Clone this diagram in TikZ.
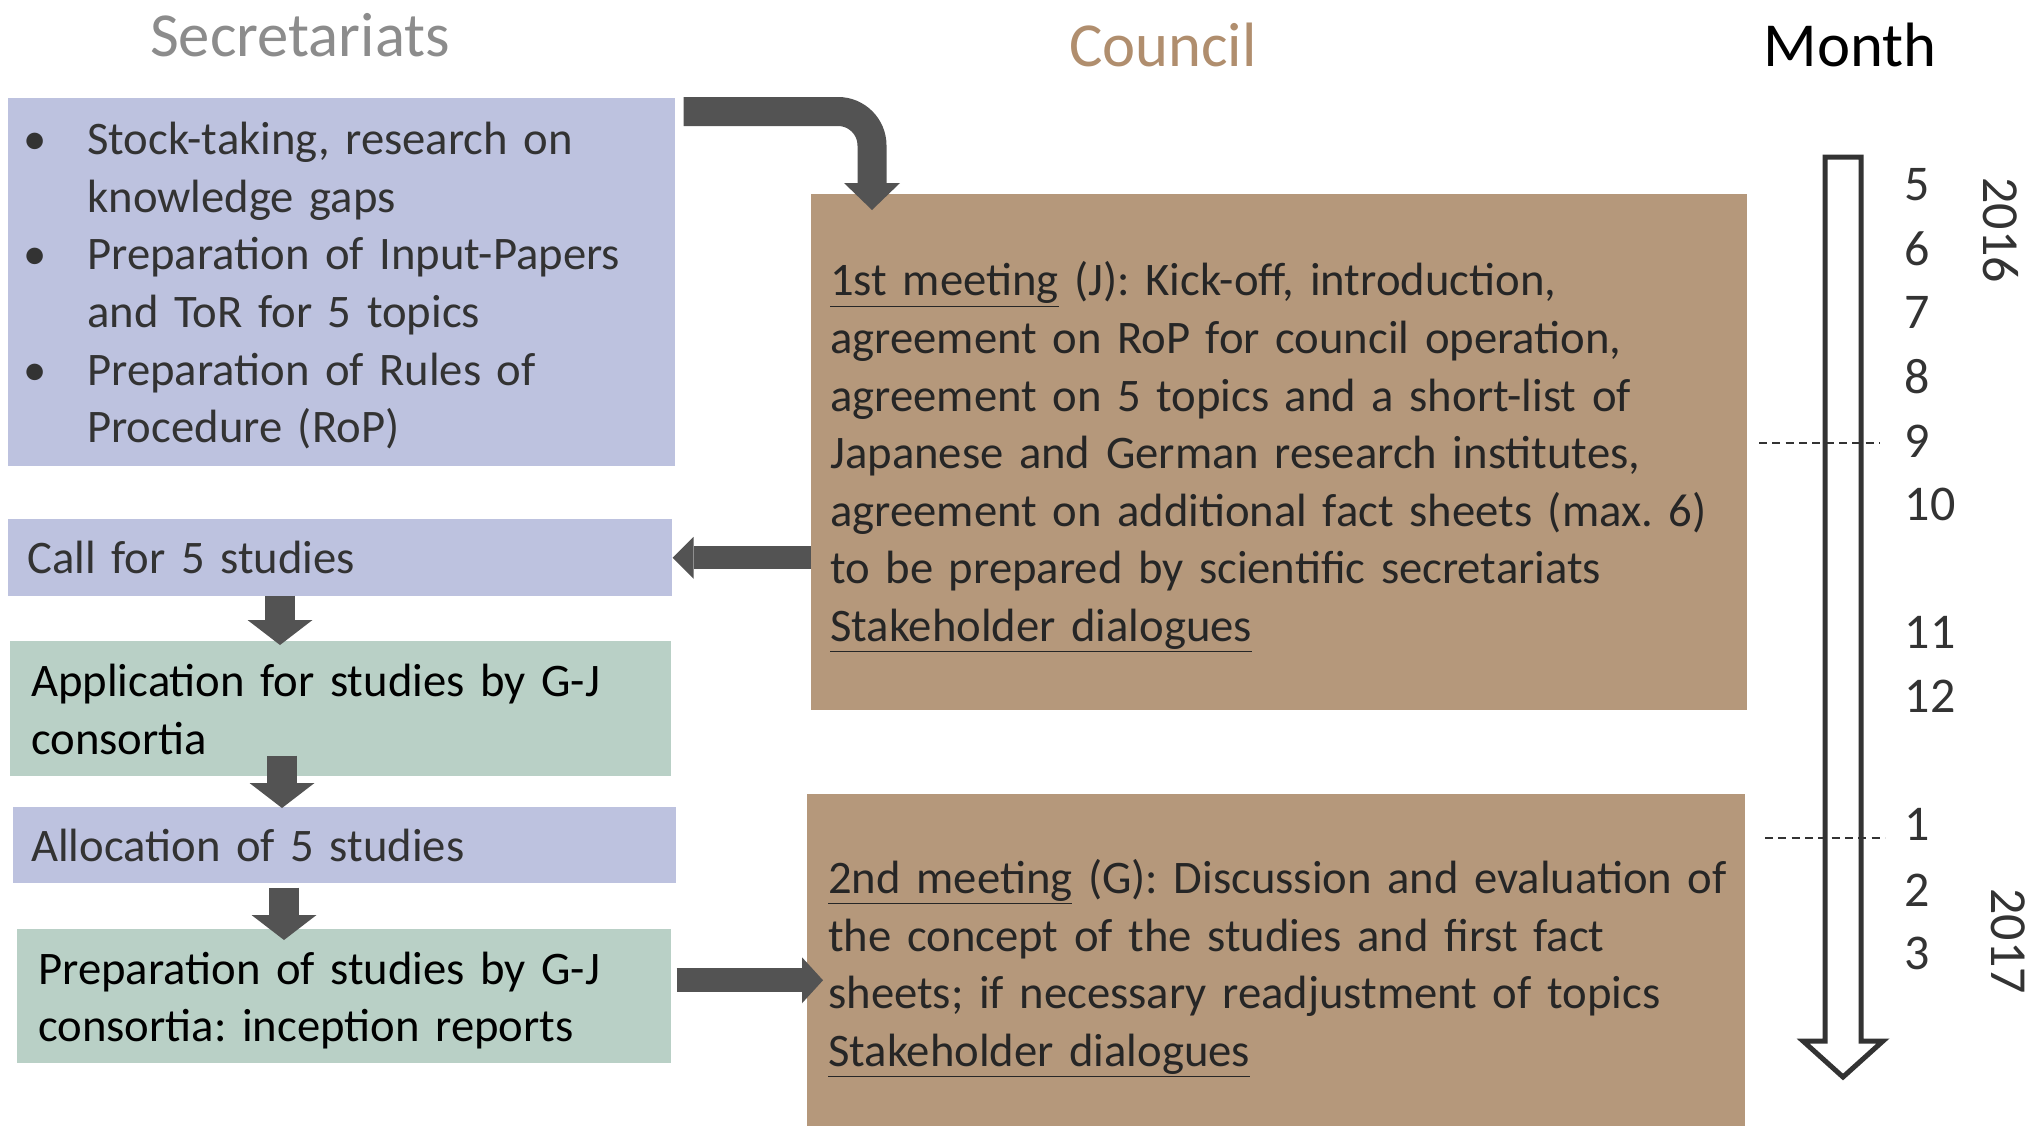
\documentclass[tikz,border=0pt]{standalone}
\usepackage{fontspec}
\setmainfont{Carlito}
\usepackage{tikz}
\usetikzlibrary{arrows.meta}
\usetikzlibrary{calc}

\definecolor{secblue}{RGB}{189,194,223}
\definecolor{studygreen}{RGB}{185,208,198}
\definecolor{councilbrown}{RGB}{181,152,123}
\definecolor{councilhead}{RGB}{176,142,110}
\definecolor{arrowgray}{RGB}{83,83,83}
\definecolor{headgray}{RGB}{140,140,140}
\definecolor{textdark}{RGB}{51,51,51}

\frenchspacing
\newcommand{\bodysize}{\fontsize{35}{43.2}\selectfont}
\newcommand{\bul}{\makebox[48pt][l]{\textbullet}}
\newcommand{\hang}{\hspace*{48pt}}
\newcommand{\textlines}[1]{\begin{tabular}{@{}l@{}}\rule{0pt}{37.74pt}#1\end{tabular}}

\tikzset{
  secbox/.style={rectangle, fill=secblue, text=textdark, anchor=north west, align=left, inner ysep=0pt, font=\bodysize},
  studybox/.style={rectangle, fill=studygreen, text=black, anchor=north west, align=left, inner ysep=0pt, font=\bodysize},
  meetbox/.style={rectangle, fill=councilbrown, text=black!85, anchor=north west, align=left, inner ysep=0pt, font=\bodysize},
  colhead/.style={font=\fontsize{47}{56}\selectfont},
  monthnum/.style={anchor=west, text=textdark, font=\fontsize{37.5}{45}\selectfont},
  yearlbl/.style={rotate=-90, text=textdark, font=\fontsize{39}{47}\selectfont},
  blockarrow/.style={draw=arrowgray, line width=#1},
  dashline/.style={draw=black!80, line width=1.1pt, dash pattern=on 6pt off 4pt},
  timeline/.style={draw=textdark, line width=3.75pt, fill=white, line join=miter},
}

\begin{document}
\begin{tikzpicture}[x=0.75pt,y=0.75pt,yscale=-1,xscale=1]
  \path[use as bounding box] (0,0) rectangle (2031,1125);
  \clip (0,0) rectangle (2031,1125);

  % column heads
  \node[colhead, text=headgray] (sechead) at (300,35) {Secretariats};
  \node[colhead, text=councilhead] (councilhead) at (1163,45) {Council};
  \node[colhead, text=black] (monthhead) at (1850,45) {Month};

  % secretariats
  \node[secbox, inner xsep=11.25pt, text width=477.75pt, minimum height=276pt] (tasks) at (8,98)
    {\textlines{\bul Stock-taking, research on\\ \hang knowledge gaps\\
     \bul Preparation of Input-Papers\\ \hang and ToR for 5 topics\\
     \bul Preparation of Rules of\\ \hang Procedure (RoP)}};
  \node[secbox, inner xsep=14.25pt, text width=469.5pt, minimum height=57.75pt] (call) at (8,519)
    {Call for 5 studies};
  \node[studybox, inner xsep=15.75pt, text width=464.25pt, minimum height=101.25pt] (apply) at (10,641)
    {\textlines{Application for studies by G-J\\ consortia}};
  \node[secbox, inner xsep=13.5pt, text width=470.25pt, minimum height=57pt] (alloc) at (13,807)
    {Allocation of 5 studies};
  \node[studybox, inner xsep=15.75pt, text width=459pt, minimum height=100.5pt] (studies) at (17,929)
    {\textlines{Preparation of studies by G-J\\ consortia: inception reports}};

  % council
  \node[meetbox, inner xsep=14.25pt, text width=673.5pt, minimum height=387pt] (meet1) at (811,194)
    {\textlines{\underline{1st meeting} (J): Kick-off, introduction,\\
     agreement on RoP for council operation,\\
     agreement on 5 topics and a short-list of\\
     Japanese and German research institutes,\\
     agreement on additional fact sheets (max. 6)\\
     to be prepared by scientific secretariats\\
     \underline{Stakeholder dialogues}}};
  \node[meetbox, inner xsep=15.75pt, text width=672pt, minimum height=253.5pt] (meet2) at (807,794)
    {\textlines{\underline{2nd meeting} (G): Discussion and evaluation of\\
     the concept of the studies and first fact\\
     sheets; if necessary readjustment of topics\\
     \underline{Stakeholder dialogues}}};

  % flow arrows
  \draw[blockarrow=21.75pt, rounded corners=25.5pt, -{Triangle[width=42pt,length=20.25pt,line width=0pt]}]
    ($(tasks.north east)+(8,13.5)$) -| ($(meet1.north west)+(61,16)$);
  \draw[blockarrow=17.25pt, -{Triangle[width=31.5pt,length=15.75pt,line width=0pt]}]
    (meet1.west |- call.east) -- (call.east);
  \draw[blockarrow=22.5pt, -{Triangle[width=48.75pt,length=18.75pt,line width=0pt]}]
    ($(call.south west)+(272,-1)$) -- ($(apply.north west)+(270,4)$);
  \draw[blockarrow=22.5pt, -{Triangle[width=48.75pt,length=18.75pt,line width=0pt]}]
    ($(apply.south west)+(272,-21)$) -- ($(alloc.north west)+(269,1)$);
  \draw[blockarrow=22.5pt, -{Triangle[width=48.75pt,length=18.75pt,line width=0pt]}]
    ($(alloc.south west)+(271,4)$) -- ($(studies.north west)+(267,11)$);
  \draw[blockarrow=18pt, -{Triangle[width=34.5pt,length=15.75pt,line width=0pt]}]
    ($(studies.east)+(5,-16)$) -- ($(meet2.west)+(16,17)$);

  % time axis
  \draw[timeline] (1825,157) -- (1861,157) -- (1861,1041) -- (1883,1041) -- (1843,1077)
    -- (1803,1041) -- (1825,1041) -- cycle;
  \draw[dashline] (1759,443) -- (1880,443);
  \draw[dashline] (1765,838) -- (1885,838);

  \foreach \m/\y in {5/185,6/249,7/312,8/377,9/441,10/504,11/632,12/696,1/824,2/890,3/953}
    \node[monthnum] (m\m) at (1900,\y) {\m};
  \node[yearlbl] (y2016) at (2001,230) {2016};
  \node[yearlbl] (y2017) at (2008,941) {2017};
\end{tikzpicture}
\end{document}
